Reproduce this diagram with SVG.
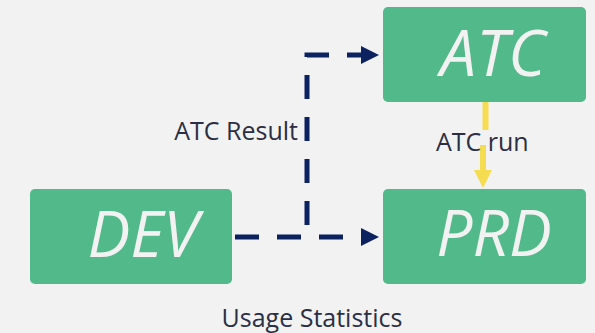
<svg xmlns="http://www.w3.org/2000/svg" width="595" height="333" viewBox="0 0 595 333">
<style>
.box{fill:#52b98a}
.bt{font-family:"Open Sans","DejaVu Sans",sans-serif;font-style:italic;font-size:64px;fill:#f2f2f2;text-anchor:middle}
.lbl{font-family:"Open Sans","DejaVu Sans",sans-serif;font-size:25px;fill:#2b2f45}
.dash{fill:none;stroke:#0b2160;stroke-width:5;stroke-dasharray:24 18}
.head{fill:#0b2160}
.yl{stroke:#f5dc50;stroke-width:6}
</style>
<rect width="595" height="333" fill="#f2f2f2"/>
<g id="connectors">
<path class="dash" d="M235,237 H361"/>
<polygon class="head" points="361,228 379,237 361,246"/>
<path class="dash" d="M307,225 V55 H361"/>
<polygon class="head" points="361,46 379,55 361,64"/>
<line class="yl" x1="485.5" y1="102" x2="485.5" y2="130"/>
<line class="yl" x1="483" y1="145" x2="483" y2="171"/>
<polygon points="474,170 492,170 483,188" fill="#f5dc50"/>
</g>
<g id="atc">
<rect class="box" x="383" y="7" width="203" height="95" rx="5"/>
<text class="bt" x="493" y="76">ATC</text>
</g>
<g id="dev">
<rect class="box" x="30" y="189" width="202" height="95" rx="5"/>
<text class="bt" x="143" y="257">DEV</text>
</g>
<g id="prd">
<rect class="box" x="383" y="189" width="203" height="95" rx="5"/>
<text class="bt" x="494" y="256">PRD</text>
</g>
<g id="labels">
<text class="lbl" x="298" y="140" text-anchor="end">ATC Result</text>
<text class="lbl" x="436" y="151">ATC run</text>
<text class="lbl" x="312" y="327" text-anchor="middle">Usage Statistics</text>
</g>
</svg>
